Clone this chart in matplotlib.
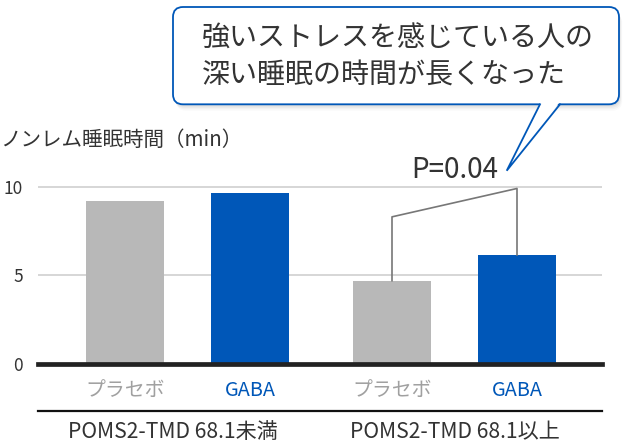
import matplotlib
matplotlib.use("Agg")
import matplotlib.pyplot as plt
import matplotlib.transforms as mtransforms
from matplotlib.patches import FancyBboxPatch, Polygon
import numpy as np

plt.rcParams['font.family'] = ['Noto Sans CJK JP', 'DejaVu Sans']

# ---- data ----
groups = ['POMS2-TMD 68.1未満', 'POMS2-TMD 68.1以上']
treatments = ['プラセボ', 'GABA']
placebo = [9.2, 4.7]
gaba = [9.65, 6.15]
yticks = [0, 5, 10]
ylabel = 'ノンレム睡眠時間（min）'
p_label = 'P=0.04'
callout = ['強いストレスを感じている人の', '深い睡眠の時間が長くなった']

GRAY = '#b8b8b8'
BLUE = '#0057b8'
TXT = '#333333'

W, H = 632, 444
fig = plt.figure(figsize=(W / 100, H / 100), dpi=100)

# main axes (pixel layout)
ax_l, ax_r, ax_b, ax_t = 38, 602, 364, 150
ax = fig.add_axes([ax_l / W, (H - ax_b) / H, (ax_r - ax_l) / W, (ax_b - ax_t) / H])
ppu = 17.73
ax.set_ylim(0, (ax_b - ax_t) / ppu)

group_step = 2.136
pos, vals, cols, tidx = [], [], [], []
for g in range(len(groups)):
    for t, series in enumerate([placebo, gaba]):
        pos.append(g * group_step + t)
        vals.append(series[g])
        cols.append([GRAY, BLUE][t])
        tidx.append(t)
pos = np.array(pos)
ax.set_xlim(pos[0] - (125 - ax_l) / 125, pos[-1] + (ax_r - 517) / 125)
ax.bar(pos, vals, width=0.624, color=cols, zorder=2)

ax.set_yticks(yticks)
ax.set_yticklabels([str(v) for v in yticks], fontsize=12.5, color=TXT)
ax.tick_params(axis='y', length=0, pad=11)
ax.set_xticks([])
for v in yticks[1:]:
    ax.axhline(v, color='#cfcfcf', lw=1.2, zorder=1)
for s in ['top', 'right', 'left']:
    ax.spines[s].set_visible(False)
ax.spines['bottom'].set_color('#222222')
ax.spines['bottom'].set_linewidth(3.4)
ax.spines['bottom'].set_zorder(3)

# significance bracket (group 2)
x3, x4 = pos[2], pos[3]
ax.plot([x3, x3, x4, x4], [placebo[1], 8.3, 9.9, gaba[1]], color='#777777', lw=1.2,
        zorder=3, clip_on=False)

# overlay in pixel coords
ov = fig.add_axes([0, 0, 1, 1], facecolor='none')
ov.set_xlim(0, W)
ov.set_ylim(H, 0)
ov.axis('off')
bl = mtransforms.blended_transform_factory(ax.transData, ov.transData)

for p, t in zip(pos, tidx):
    ov.text(p, 390, treatments[t], transform=bl, ha='center', va='center',
            fontsize=14.3, color='#a0a0a0' if t == 0 else BLUE)
ov.plot([ax_l, ax_r], [410.7, 410.7], color='#111111', lw=1.6)
for g, name in enumerate(groups):
    ov.text(g * group_step + 0.5 - (0.12 if g == 0 else 0), 432, name, transform=bl,
            ha='center', va='center', fontsize=15.2, color=TXT)

ov.text(0, 140, ylabel, ha='left', va='center', fontsize=14.8, color=TXT)
ov.text(group_step + 0.5, 170, p_label, transform=bl, ha='center', va='center',
        fontsize=20, color=TXT)

# callout bubble
bx0, by0, bx1, by1 = 173, 7, 619, 104.3
for k, a in enumerate([0.05, 0.04, 0.03, 0.02]):
    d = 2 + k * 1.5
    sh = FancyBboxPatch((bx0 + d * 0.5, by0 + d), bx1 - bx0, by1 - by0,
                        boxstyle='round,pad=0,rounding_size=10', fc='black',
                        ec='none', alpha=a, zorder=4)
    ov.add_patch(sh)
box = FancyBboxPatch((bx0, by0), bx1 - bx0, by1 - by0,
                     boxstyle='round,pad=0,rounding_size=10', fc='white',
                     ec=BLUE, lw=1.3, zorder=5)
ov.add_patch(box)
tip = (506.7, 170.7)
ov.add_patch(Polygon([(540.6, 102.5), (559.4, 102.5), tip], closed=True, fc='white',
                     ec='none', zorder=6))
ov.plot([540, tip[0], 560], [by1, tip[1], by1], color=BLUE, lw=1.3, zorder=7,
        solid_joinstyle='miter')
ov.text(202, 38.5, callout[0], ha='left', va='center', fontsize=20.2, color=TXT, zorder=8)
ov.text(202, 76, callout[1], ha='left', va='center', fontsize=20.2, color=TXT, zorder=8)

fig.savefig('out.png', dpi=100)
